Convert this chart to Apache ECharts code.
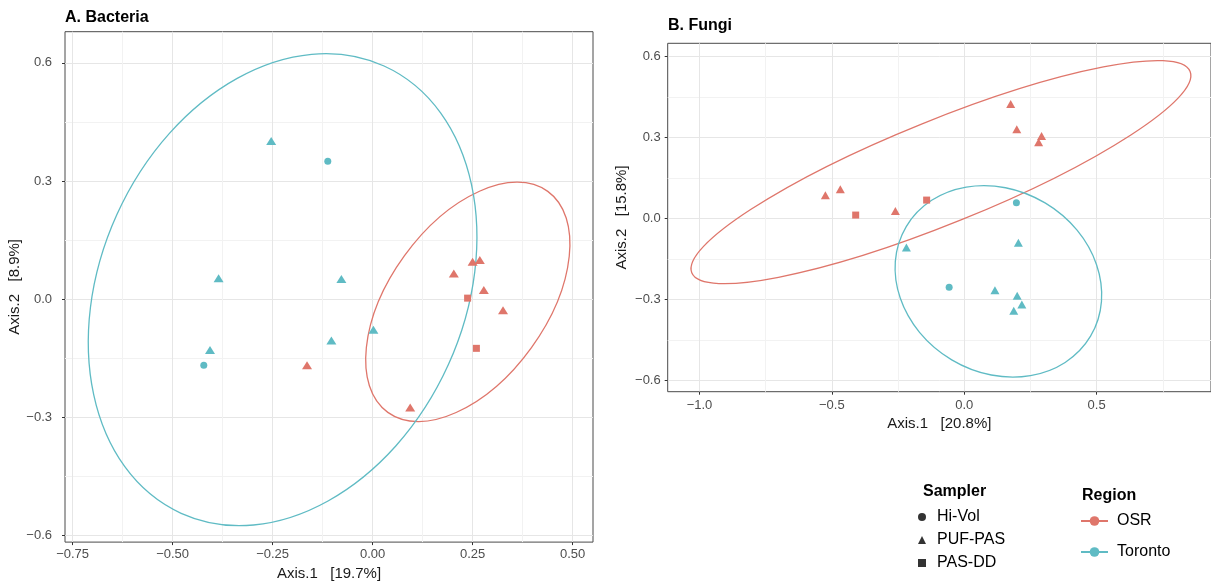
<!DOCTYPE html>
<html><head><meta charset="utf-8">
<script src="https://cdn.jsdelivr.net/npm/echarts@6/dist/echarts.min.js"></script>
<style>html,body{margin:0;padding:0;background:#fff}#c{width:1211px;height:586px}</style>
</head><body><div id="c"></div>
<script>
// ---------- Panel A: Bacteria (Axis.1, Axis.2) ----------
const bactOSR_PUF = [[0.203,0.065],[0.250,0.095],[0.268,0.099],[0.278,0.023],[0.326,-0.028],[0.094,-0.275],[-0.164,-0.168]];
const bactOSR_DD  = [[0.2375,0.0025],[0.2595,-0.125]];
const bactTor_PUF = [[-0.2535,0.4015],[-0.385,0.053],[-0.078,0.051],[0.002,-0.078],[-0.103,-0.105],[-0.4065,-0.129]];
const bactTor_HV  = [[-0.112,0.350],[-0.422,-0.168]];
// 95% ellipses: [centre x, centre y, semi-major, semi-minor, angle deg]
const bactEllOSR = [0.238,-0.007,0.341,0.199,54.1];
const bactEllTor = [-0.225,0.024,0.614,0.462,65.6];
const bactXTicks = [-0.75,-0.5,-0.25,0,0.25,0.5];
const bactXLabels = ['\u22120.75','\u22120.50','\u22120.25','0.00','0.25','0.50'];
const bactYTicks = [-0.6,-0.3,0,0.3,0.6];
const bactYLabels = ['\u22120.6','\u22120.3','0.0','0.3','0.6'];

// ---------- Panel B: Fungi ----------
const fungOSR_PUF = [[0.1755,0.424],[0.1985,0.331],[0.292,0.3055],[0.281,0.283],[-0.5245,0.086],[-0.468,0.109],[-0.260,0.028]];
const fungOSR_DD  = [[-0.410,0.013],[-0.142,0.0685]];
const fungTor_PUF = [[0.2045,-0.0895],[-0.2185,-0.107],[0.116,-0.265],[0.200,-0.286],[0.2175,-0.318],[0.187,-0.341]];
const fungTor_HV  = [[0.197,0.0585],[-0.057,-0.254]];
const fungEllOSR = [-0.088,0.172,1.015,0.192,22.0];
const fungEllTor = [0.129,-0.2325,0.405,0.338,-30.75];
const fungXTicks = [-1.0,-0.5,0,0.5];
const fungXLabels = ['\u22121.0','\u22120.5','0.0','0.5'];
const fungYTicks = [-0.6,-0.3,0,0.3,0.6];
const fungYLabels = ['\u22120.6','\u22120.3','0.0','0.3','0.6'];

const samplers = ['Hi-Vol','PUF-PAS','PAS-DD'];
const regions = ['OSR','Toronto'];

const C_OSR = '#DF766B', C_TOR = '#5FBBC4';
const FONT = '"Liberation Sans", Arial, sans-serif';

function fmt(ticks, labels){
  return function(v){
    for (let i=0;i<ticks.length;i++) if (Math.abs(v-ticks[i])<1e-6) return labels[i];
    return '';
  };
}
function axis(grid, min, max, step, ticks, labels, name, gap, lm){
  return {type:'value', gridIndex:grid, min:min, max:max, minInterval:step, maxInterval:step,
    name:name, nameLocation:'middle', nameGap:gap,
    nameTextStyle:{fontFamily:FONT,fontSize:15,color:'#1a1a1a'},
    axisLine:{show:false,onZero:false},
    axisTick:{show:true,length:3,lineStyle:{color:'#333',width:1},customValues:ticks},
    axisLabel:{show:true,margin:lm,fontFamily:FONT,fontSize:13,color:'#4D4D4D',formatter:fmt(ticks,labels),customValues:ticks},
    splitLine:{show:true,lineStyle:{color:'#E6E6E6',width:1}},
    minorTick:{show:false,splitNumber:2},
    minorSplitLine:{show:true,lineStyle:{color:'#F2F2F2',width:1}}
  };
}
function pts(name, data, sym, size, color, xi){
  return {type:'scatter', name:name, xAxisIndex:xi, yAxisIndex:xi, data:data, symbol:sym, symbolSize:size,
    itemStyle:{color:color, opacity:1}, z:5, silent:true};
}
function ell(name, params, color, xi){
  return {type:'custom', name:name, xAxisIndex:xi, yAxisIndex:xi, data:[params], encode:{x:0,y:1},
    silent:true, z:3,
    renderItem:function(p, api){
      const c = api.coord([api.value(0), api.value(1)]);
      const s = api.size([api.value(2), api.value(3)]);
      return {type:'ellipse', x:c[0], y:c[1], rotation:api.value(4)*Math.PI/180,
        shape:{cx:0, cy:0, rx:s[0], ry:s[1]},
        style:{fill:'none', stroke:color, lineWidth:1.3}};
    }};
}

const option = {
  animation:false,
  backgroundColor:'#fff',
  title:[
    {text:'A. Bacteria', left:65, top:10, padding:0, textStyle:{fontFamily:FONT,fontSize:16,fontWeight:'bold',color:'#000'}},
    {text:'B. Fungi', left:668, top:18, padding:0, textStyle:{fontFamily:FONT,fontSize:16,fontWeight:'bold',color:'#000'}},
    {text:'Sampler', left:923, top:484, padding:0, textStyle:{fontFamily:FONT,fontSize:16,fontWeight:'bold',color:'#000'}},
    {text:'Region', left:1082, top:488, padding:0, textStyle:{fontFamily:FONT,fontSize:16,fontWeight:'bold',color:'#000'}}
  ],
  legend:[
    {data:samplers, orient:'vertical', left:918, top:509, padding:0, itemGap:7, itemWidth:8, itemHeight:8,
      textStyle:{fontFamily:FONT,fontSize:16,color:'#000',lineHeight:16,padding:[0,0,0,6]}, selectedMode:false},
    {data:regions, orient:'vertical', left:1080, top:513, padding:0, itemGap:15, itemWidth:27, itemHeight:12,
      textStyle:{fontFamily:FONT,fontSize:16,color:'#000',lineHeight:16,padding:[0,0,0,4]}, selectedMode:false}
  ],
  grid:[
    {left:65, top:31.7, width:528, height:518.3, show:true, borderColor:'#4a4a4a', borderWidth:1, backgroundColor:'#fff', containLabel:false},
    {left:667.7, top:43.3, width:554, height:348.4, show:true, borderColor:'#4a4a4a', borderWidth:1, backgroundColor:'#fff', containLabel:false}
  ],
  xAxis:[
    axis(0,-0.769,0.551,0.25,bactXTicks,bactXLabels,'Axis.1   [19.7%]',20,6),
    axis(1,-1.12,0.932,0.5,fungXTicks,fungXLabels,'Axis.1   [20.8%]',22,7)
  ],
  yAxis:[
    axis(0,-0.617,0.679,0.3,bactYTicks,bactYLabels,'Axis.2   [8.9%]',38,13),
    axis(1,-0.641,0.649,0.3,fungYTicks,fungYLabels,'Axis.2   [15.8%]',38,7)
  ],
  series:[
    ell('ellA-OSR', bactEllOSR, C_OSR, 0),
    ell('ellA-Tor', bactEllTor, C_TOR, 0),
    pts('A OSR PUF', bactOSR_PUF, 'triangle', [10,8], C_OSR, 0),
    pts('A OSR DD', bactOSR_DD, 'rect', 7, C_OSR, 0),
    pts('A Tor PUF', bactTor_PUF, 'triangle', [10,8], C_TOR, 0),
    pts('A Tor HV', bactTor_HV, 'circle', 7, C_TOR, 0),
    ell('ellB-OSR', fungEllOSR, C_OSR, 1),
    ell('ellB-Tor', fungEllTor, C_TOR, 1),
    pts('B OSR PUF', fungOSR_PUF, 'triangle', [9,8], C_OSR, 1),
    pts('B OSR DD', fungOSR_DD, 'rect', 7, C_OSR, 1),
    pts('B Tor PUF', fungTor_PUF, 'triangle', [9,8], C_TOR, 1),
    pts('B Tor HV', fungTor_HV, 'circle', 7, C_TOR, 1),
    // legend keys
    {type:'scatter', name:'Hi-Vol', symbol:'circle', data:[], itemStyle:{color:'#000'}},
    {type:'scatter', name:'PUF-PAS', symbol:'triangle', data:[], itemStyle:{color:'#000'}},
    {type:'scatter', name:'PAS-DD', symbol:'rect', data:[], itemStyle:{color:'#000'}},
    {type:'line', name:'OSR', symbol:'circle', symbolSize:10, data:[], lineStyle:{color:C_OSR,width:2.5}, itemStyle:{color:C_OSR}},
    {type:'line', name:'Toronto', symbol:'circle', symbolSize:10, data:[], lineStyle:{color:C_TOR,width:2.5}, itemStyle:{color:C_TOR}}
  ]
};
const chart = echarts.init(document.getElementById('c'), null, {renderer:'canvas'});
chart.setOption(option);
</script></body></html>
